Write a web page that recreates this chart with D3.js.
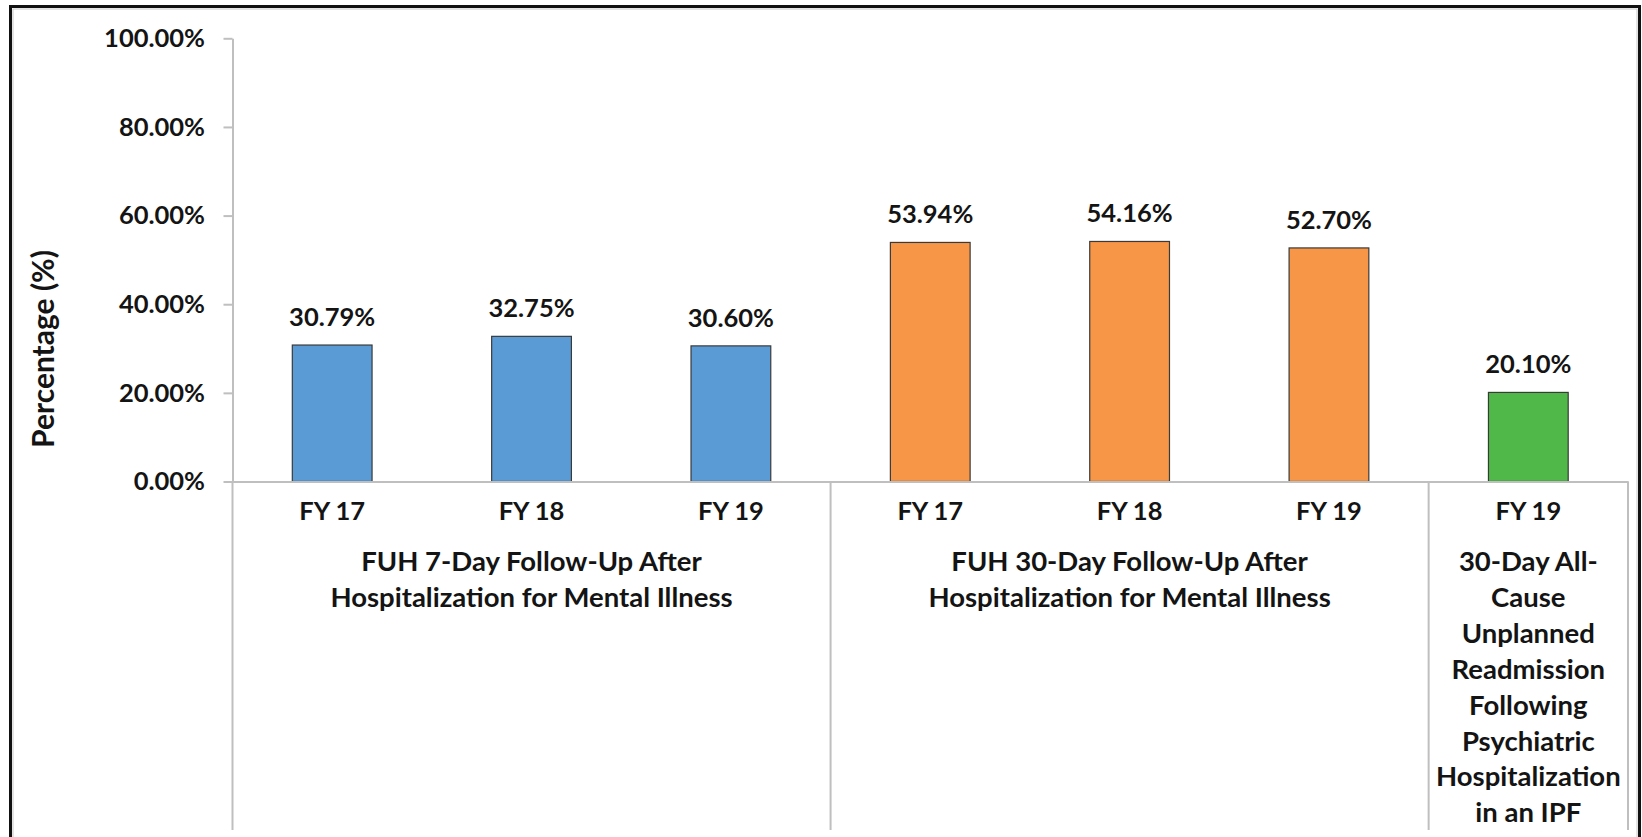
<!DOCTYPE html>
<html>
<head>
<meta charset="utf-8">
<script src="https://cdn.jsdelivr.net/npm/d3@7"></script>
<style>
  html, body { margin: 0; padding: 0; background: #fff; }
  svg { display: block; }
  text { font-family: Lato, "Open Sans", sans-serif; font-weight: 700; fill: #141414; }
</style>
</head>
<body>
<svg id="chart" width="1642" height="837"></svg>
<script>
// Category labels for each bar (inner axis level)
const categories = ["FY 17", "FY 18", "FY 19", "FY 17", "FY 18", "FY 19", "FY 19"];
// Measure index of each bar
const groupIndex = [0, 0, 0, 1, 1, 1, 2];
// Rates in percent
const values = [30.79, 32.75, 30.60, 53.94, 54.16, 52.70, 20.10];
// Outer axis level: measure names, as wrapped lines
const groupLines = [
  ["FUH 7-Day Follow-Up After", "Hospitalization for Mental Illness"],
  ["FUH 30-Day Follow-Up After", "Hospitalization for Mental Illness"],
  ["30-Day All-", "Cause", "Unplanned", "Readmission", "Following", "Psychiatric", "Hospitalization", "in an IPF"]
];
const groupColors = ["#5B9BD5", "#F79646", "#4FB848"];
const yTicks = [0, 20, 40, 60, 80, 100];
const yTitle = "Percentage (%)";

const svg = d3.select("#chart");
const tickFont = 25.5, valueFont = 25.5, titleFont = 30, groupFont = 27.5;

const plot = { left: 232.5, right: 1628, top: 38.3, base: 481.5, bottom: 830 };

const x = d3.scaleBand()
  .domain(d3.range(values.length))
  .range([plot.left, plot.right])
  .paddingInner(0.6)
  .paddingOuter(0.3);

const y = d3.scaleLinear().domain([0, 100]).range([plot.base, plot.top]);

// Outer frame
svg.append("rect")
  .attr("x", 10.5).attr("y", 6.5)
  .attr("width", 1629).attr("height", 900)
  .attr("fill", "none").attr("stroke", "#111").attr("stroke-width", 3);
svg.append("rect")
  .attr("x", 13).attr("y", 9)
  .attr("width", 1624).attr("height", 900)
  .attr("fill", "none").attr("stroke", "#c8c8c8").attr("stroke-width", 1);

// Y axis
const yAxis = svg.append("g")
  .attr("transform", `translate(${plot.left},0)`)
  .call(d3.axisLeft(y)
    .tickValues(yTicks)
    .tickFormat(d => d.toFixed(2) + "%")
    .tickSize(9)
    .tickSizeOuter(0)
    .tickPadding(18.5));
yAxis.select(".domain").attr("stroke", "#bfbfbf").attr("stroke-width", 2);
yAxis.selectAll(".tick line").attr("stroke", "#bfbfbf").attr("stroke-width", 2);
yAxis.selectAll(".tick text")
  .attr("font-size", tickFont)
  .style("font-family", "Lato, 'Open Sans', sans-serif")
  .style("font-weight", 700)
  .attr("fill", "#141414");

// Y axis title
svg.append("text")
  .attr("transform", "translate(54,349) rotate(-90)")
  .attr("text-anchor", "middle")
  .attr("font-size", titleFont)
  .text(yTitle);

// Bars
svg.append("g").selectAll("rect")
  .data(values)
  .join("rect")
  .attr("x", (d, i) => x(i))
  .attr("y", d => y(d))
  .attr("width", x.bandwidth())
  .attr("height", d => y(0) - y(d))
  .attr("fill", (d, i) => groupColors[groupIndex[i]])
  .attr("stroke", "#3a3a3a")
  .attr("stroke-width", 1.2);

// Value labels
svg.append("g").selectAll("text")
  .data(values)
  .join("text")
  .attr("x", (d, i) => x(i) + x.bandwidth() / 2)
  .attr("y", d => y(d) - 19)
  .attr("text-anchor", "middle")
  .attr("font-size", valueFont)
  .text(d => d.toFixed(2) + "%");

// X axis (inner category level)
const xAxis = svg.append("g")
  .attr("transform", `translate(0,${plot.base})`)
  .call(d3.axisBottom(x)
    .tickFormat(i => categories[i])
    .tickSize(0)
    .tickSizeOuter(0)
    .tickPadding(20.5));
xAxis.select(".domain").attr("stroke", "#bfbfbf").attr("stroke-width", 2);
xAxis.selectAll(".tick text")
  .attr("font-size", tickFont)
  .style("font-family", "Lato, 'Open Sans', sans-serif")
  .style("font-weight", 700)
  .attr("fill", "#141414");

// Group separators and outer category level
const groupBounds = d3.range(groupLines.length).map(g => {
  const idx = d3.range(values.length).filter(i => groupIndex[i] === g);
  const step = x.step();
  const x0 = x(idx[0]) - x.paddingInner() * step / 2;
  const x1 = x(idx[idx.length - 1]) + x.bandwidth() + x.paddingInner() * step / 2;
  return { g, x0: Math.max(plot.left, x0), x1: Math.min(plot.right, x1) };
});

const sepX = [plot.left, ...groupBounds.map(b => b.x1)];
svg.append("g").selectAll("line")
  .data(sepX)
  .join("line")
  .attr("x1", d => d).attr("x2", d => d)
  .attr("y1", plot.base).attr("y2", plot.bottom)
  .attr("stroke", "#bfbfbf").attr("stroke-width", 2);

const lineHeight = 35.9;
svg.append("g").selectAll("text")
  .data(groupBounds)
  .join("text")
  .attr("text-anchor", "middle")
  .attr("font-size", groupFont)
  .each(function(b) {
    const t = d3.select(this);
    groupLines[b.g].forEach((ln, k) => {
      t.append("tspan")
        .attr("x", (b.x0 + b.x1) / 2)
        .attr("y", 571 + k * lineHeight)
        .text(ln);
    });
  });
</script>
</body>
</html>
